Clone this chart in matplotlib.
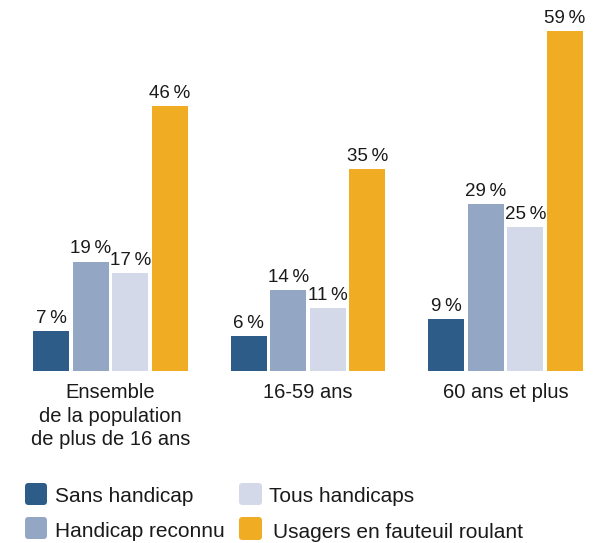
import matplotlib.pyplot as plt
from matplotlib.patches import FancyBboxPatch
import numpy as np

plt.rcParams['font.family'] = ['Liberation Sans', 'DejaVu Sans']

# data
groups = ["Ensemble\nde la population\nde plus de 16 ans", "16-59 ans", "60 ans et plus"]
series = ["Sans handicap", "Handicap reconnu", "Tous handicaps", "Usagers en fauteuil roulant"]
sans_handicap = [7, 6, 9]
handicap_reconnu = [19, 14, 29]
tous_handicaps = [17, 11, 25]
fauteuil = [46, 35, 59]
colors = ["#2D5C88", "#93A7C4", "#D3D9E8", "#F0AC22"]

values = [sans_handicap, handicap_reconnu, tous_handicaps, fauteuil]
text_color = "#1a1a1a"

fig = plt.figure(figsize=(6.05, 5.43), dpi=100)
ax = fig.add_axes([0, (543 - 371) / 543, 1, 371 / 543])

x = np.arange(len(groups))
pitch = 0.2
width = 0.182
for i, vals in enumerate(values):
    pos = x + (i - 1.5) * pitch
    bars = ax.bar(pos, vals, width=width, color=colors[i], linewidth=0)
    for b, v in zip(bars, vals):
        ax.annotate(f"{v}\u2009%", (b.get_x() + b.get_width() / 2, v),
                    xytext=(0, 5.8), textcoords="offset points",
                    ha="center", va="baseline", fontsize=13.5, color=text_color)

# 197.5 px per group, first group centred at 110.5 px
ax.set_xlim(-110.5 / 197.5, (605 - 110.5) / 197.5)
ax.set_ylim(0, 371 / 5.763)
ax.axis("off")

# category labels under the groups, one line at a time
line_offsets = [19.4, 36.4, 53.3]  # points below the baseline
for xi, g in zip(x, groups):
    for off, line in zip(line_offsets, g.split("\n")):
        ax.annotate(line, (xi, 0), xytext=(0, -off), textcoords="offset points",
                    ha="center", va="baseline", fontsize=14.5, color=text_color)

# legend, drawn by hand (pixel positions from the top left)
squares = [(25, 483, 22, 22), (25, 517, 22, 22), (239, 483, 23, 22), (239, 517, 23, 23)]
texts = [(55, 502), (55, 537), (269, 502), (273, 538)]
for (sx, sy, sw, sh), (tx, ty), name, c in zip(squares, texts, series, colors):
    box = FancyBboxPatch((sx / 100, (543 - sy - sh) / 100), sw / 100, sh / 100,
                         boxstyle="round,pad=0,rounding_size=0.035",
                         transform=fig.dpi_scale_trans, facecolor=c, edgecolor="none")
    fig.add_artist(box)
    fig.text(tx / 605, 1 - ty / 543, name, ha="left", va="baseline",
             fontsize=15, color=text_color)

fig.savefig("out.png", dpi=100)
